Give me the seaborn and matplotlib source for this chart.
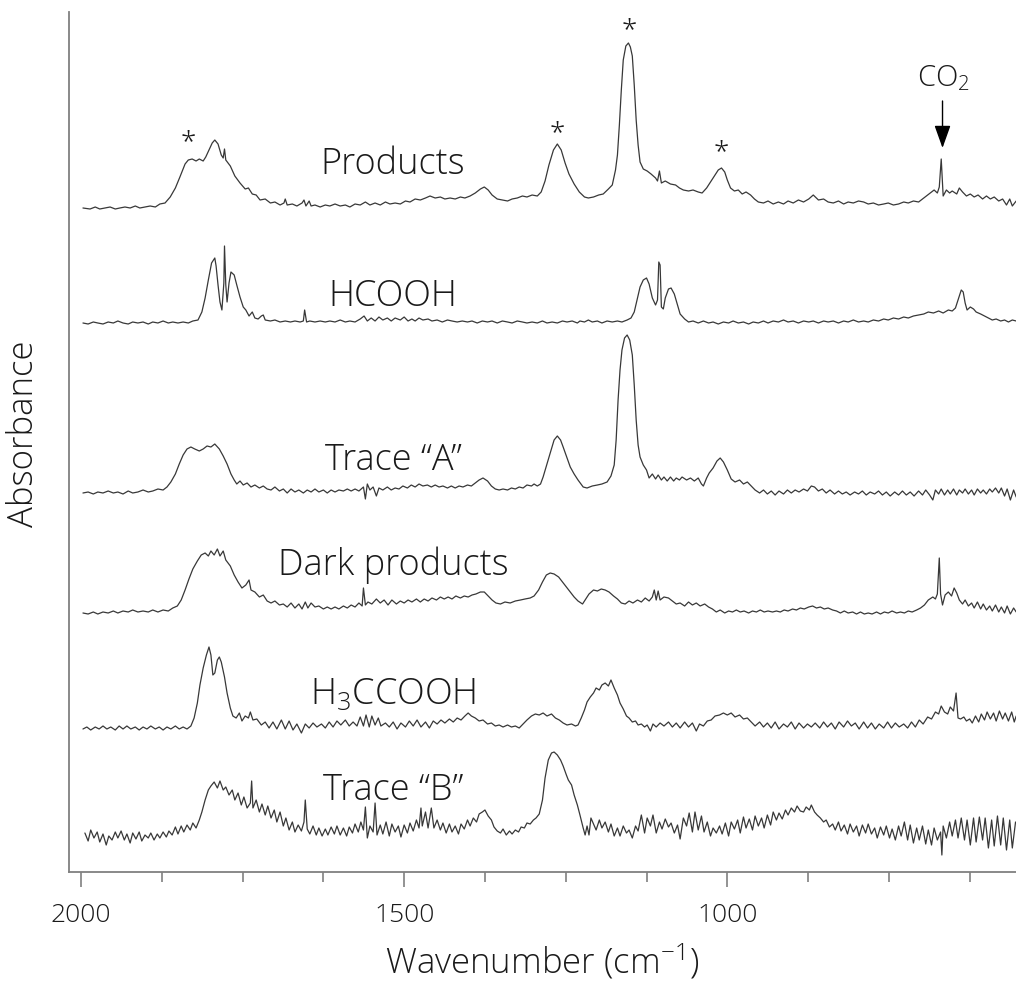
import matplotlib
matplotlib.use("Agg")
import matplotlib.pyplot as plt
from matplotlib.ticker import MultipleLocator
import pandas as pd
import seaborn as sns

# ---------------- data: (wavenumber cm-1, absorbance a.u. above own baseline) ----------------
PRODUCTS = [(1997,-2),(1986,-3),(1978,-1),(1971,-3),(1963,-2),(1955,-1),(1947,-3),(1940,-2),(1932,-1),(1924,-2),(1916,0),(1909,-2),(1901,-1),(1893,0),(1885,-1),(1878,2),(1870,3),(1862,9),(1854,18),(1847,29),(1839,42),(1834,46),(1828,47),(1822,45),(1817,47),(1811,45),(1807,49),(1802,56),(1797,63),(1793,66),(1788,62),(1783,51),(1780,48),(1778,57),(1776,46),(1769,40),(1762,30),(1754,23),(1746,17),(1741,18),(1735,12),(1729,11),(1723,6),(1715,7),(1707,3),(1700,4),(1692,1),(1686,3),(1684,7),(1681,1),(1673,2),(1666,0),(1658,3),(1655,6),(1652,0),(1647,5),(1644,0),(1638,1),(1630,-1),(1622,1),(1615,0),(1607,2),(1599,0),(1591,1),(1584,-1),(1576,2),(1568,1),(1560,4),(1553,1),(1545,3),(1537,1),(1529,4),(1522,2),(1514,3),(1506,2),(1498,5),(1491,4),(1483,7),(1475,6),(1467,8),(1460,10),(1452,8),(1444,9),(1437,7),(1429,8),(1421,7),(1413,9),(1406,8),(1398,10),(1390,13),(1382,17),(1376,19),(1370,16),(1364,11),(1356,7),(1348,6),(1340,5),(1333,7),(1325,8),(1317,10),(1310,9),(1302,11),(1294,10),(1288,14),(1282,25),(1276,41),(1269,56),(1263,62),(1257,56),(1251,43),(1245,32),(1237,22),(1229,14),(1221,9),(1215,8),(1207,9),(1199,11),(1192,12),(1184,17),(1178,21),(1173,36),(1170,51),(1167,81),(1164,116),(1161,146),(1157,160),(1153,163),(1150,159),(1147,150),(1144,121),(1141,86),(1138,61),(1135,44),(1130,37),(1124,35),(1118,32),(1111,28),(1108,25),(1105,35),(1102,23),(1096,25),(1088,22),(1080,21),(1074,18),(1068,16),(1060,15),(1053,16),(1045,14),(1039,13),(1032,18),(1026,24),(1020,30),(1014,36),(1009,38),(1004,34),(1000,26),(995,18),(989,15),(983,16),(977,12),(971,14),(964,11),(958,7),(952,4),(944,3),(937,5),(929,2),(921,4),(913,2),(906,5),(898,3),(890,6),(882,4),(874,7),(867,11),(859,6),(851,7),(844,4),(836,3),(828,5),(820,2),(813,4),(805,3),(797,5),(789,4),(782,2),(774,3),(766,1),(758,2),(751,3),(743,1),(735,2),(727,4),(720,3),(712,5),(704,4),(698,7),(692,10),(686,13),(680,16),(675,13),(672,19),(669,47),(666,10),(661,16),(656,13),(652,15),(645,12),(641,18),(636,14),(630,10),(624,12),(618,9),(612,11),(605,7),(599,10),(593,7),(587,9),(580,5),(574,7),(568,1),(563,7),(559,0),(553,5)]

HCOOH = [(1997,0),(1989,-1),(1981,1),(1974,0),(1966,-1),(1958,1),(1950,0),(1943,2),(1935,0),(1927,-1),(1920,1),(1912,0),(1904,1),(1896,-1),(1889,1),(1881,0),(1873,2),(1865,0),(1858,1),(1850,0),(1842,1),(1834,0),(1827,2),(1819,3),(1813,11),(1808,25),(1803,43),(1798,60),(1793,65),(1791,57),(1788,38),(1785,21),(1782,13),(1779,40),(1778,77),(1776,38),(1774,21),(1771,40),(1768,51),(1763,48),(1759,38),(1754,26),(1749,16),(1745,13),(1740,7),(1735,11),(1731,5),(1726,4),(1721,7),(1718,8),(1715,3),(1707,2),(1700,3),(1692,1),(1684,2),(1676,1),(1669,2),(1661,1),(1656,2),(1654,13),(1651,1),(1646,2),(1638,1),(1630,2),(1622,1),(1615,2),(1607,1),(1599,3),(1591,1),(1584,2),(1576,1),(1568,4),(1562,7),(1557,2),(1551,5),(1545,2),(1539,6),(1533,3),(1526,5),(1520,2),(1514,5),(1506,3),(1500,6),(1494,2),(1488,4),(1483,2),(1477,5),(1471,3),(1463,4),(1457,2),(1449,3),(1441,1),(1433,3),(1426,2),(1418,1),(1410,2),(1402,1),(1395,2),(1387,0),(1379,2),(1371,1),(1364,2),(1356,0),(1348,2),(1340,1),(1333,0),(1325,2),(1317,1),(1310,0),(1302,1),(1294,0),(1286,2),(1279,0),(1271,1),(1263,0),(1255,2),(1248,1),(1240,2),(1232,0),(1228,2),(1221,1),(1215,3),(1209,1),(1201,2),(1194,0),(1186,2),(1178,1),(1170,2),(1163,1),(1155,3),(1149,5),(1144,11),(1139,25),(1135,36),(1130,43),(1125,45),(1121,39),(1116,25),(1111,18),(1108,23),(1106,61),(1104,58),(1102,16),(1099,14),(1096,25),(1091,34),(1087,35),(1082,29),(1077,18),(1073,9),(1066,4),(1060,1),(1053,2),(1045,0),(1037,2),(1029,0),(1022,1),(1014,-1),(1006,1),(998,0),(991,2),(983,0),(975,1),(967,-1),(960,1),(952,0),(944,2),(937,0),(929,2),(921,1),(913,3),(906,1),(898,2),(890,0),(882,2),(874,1),(867,2),(859,0),(851,2),(844,1),(836,2),(828,0),(820,2),(813,1),(805,3),(797,1),(789,2),(782,1),(774,3),(766,2),(758,4),(751,3),(743,5),(735,4),(727,6),(720,5),(712,7),(704,8),(696,9),(689,11),(681,10),(673,12),(666,10),(658,13),(652,12),(647,15),(643,23),(638,33),(635,31),(632,20),(629,13),(624,16),(619,14),(615,11),(608,9),(602,7),(596,5),(590,3),(584,4),(577,2),(571,3),(565,1),(559,3),(553,2)]

TRACE_A = [(1997,-1),(1989,0),(1981,-2),(1974,0),(1966,-1),(1958,1),(1950,-1),(1943,0),(1935,-2),(1927,1),(1920,-1),(1912,0),(1904,2),(1896,0),(1889,1),(1881,3),(1873,2),(1867,5),(1861,10),(1854,18),(1848,28),(1842,37),(1836,43),(1830,45),(1824,43),(1817,41),(1811,43),(1805,46),(1799,45),(1793,48),(1786,43),(1780,36),(1774,28),(1768,18),(1763,12),(1759,8),(1754,11),(1749,7),(1743,9),(1737,5),(1731,7),(1724,4),(1718,6),(1712,3),(1706,2),(1700,5),(1693,1),(1687,3),(1681,-1),(1675,3),(1669,0),(1663,2),(1656,-1),(1650,2),(1644,0),(1638,3),(1632,0),(1625,2),(1619,-1),(1613,2),(1607,0),(1601,2),(1594,1),(1588,3),(1582,1),(1576,3),(1570,1),(1563,5),(1560,-7),(1557,8),(1553,2),(1548,5),(1543,-4),(1539,4),(1533,2),(1526,5),(1520,2),(1514,4),(1508,3),(1502,6),(1495,4),(1489,7),(1483,5),(1477,8),(1471,6),(1464,7),(1458,5),(1452,7),(1446,5),(1440,6),(1433,4),(1427,6),(1421,4),(1415,6),(1409,5),(1402,7),(1396,6),(1390,9),(1384,12),(1378,14),(1371,11),(1365,6),(1359,3),(1353,2),(1347,3),(1340,2),(1334,4),(1328,3),(1322,5),(1316,4),(1310,7),(1303,6),(1299,8),(1294,6),(1289,8),(1285,15),(1280,26),(1274,39),(1268,52),(1263,56),(1258,52),(1254,45),(1248,34),(1243,25),(1237,18),(1231,12),(1223,5),(1217,4),(1209,6),(1201,7),(1194,8),(1186,10),(1180,16),(1175,27),(1172,52),(1169,92),(1166,122),(1163,142),(1159,154),(1155,157),(1151,152),(1147,137),(1144,107),(1141,72),(1138,47),(1135,35),(1130,27),(1125,22),(1121,14),(1116,18),(1111,13),(1107,17),(1102,12),(1098,15),(1093,11),(1088,15),(1083,11),(1079,14),(1074,12),(1070,15),(1063,12),(1057,14),(1051,11),(1045,14),(1040,8),(1037,6),(1032,14),(1028,19),(1022,24),(1016,31),(1011,34),(1006,30),(1000,22),(994,13),(988,10),(981,12),(975,8),(969,10),(963,6),(957,2),(950,-1),(944,2),(938,-2),(932,1),(926,-3),(920,1),(913,-2),(907,2),(901,-1),(895,2),(889,0),(882,3),(876,1),(870,6),(865,5),(859,1),(853,3),(847,-1),(841,2),(834,-2),(828,1),(822,-2),(816,0),(810,-3),(803,0),(797,-2),(791,1),(785,-3),(779,0),(772,-2),(766,1),(760,-3),(754,0),(748,-4),(741,0),(735,-3),(729,1),(723,-3),(717,0),(711,-4),(704,1),(698,-3),(693,2),(687,-3),(682,-8),(678,2),(673,-2),(669,3),(664,-3),(659,2),(655,-2),(650,3),(645,-3),(641,2),(636,-1),(632,3),(627,-2),(622,2),(618,-3),(613,3),(608,-1),(604,2),(599,-2),(594,3),(590,0),(585,4),(580,-1),(576,4),(571,-4),(567,3),(562,-8),(557,2),(553,-5)]

DARK = [(1997,-1),(1989,-2),(1981,0),(1974,-2),(1966,0),(1958,-1),(1950,1),(1943,-1),(1935,1),(1927,0),(1920,2),(1912,0),(1904,1),(1896,0),(1889,2),(1881,0),(1873,2),(1865,1),(1858,4),(1851,6),(1845,12),(1839,22),(1833,33),(1827,43),(1820,51),(1814,57),(1808,59),(1803,56),(1799,61),(1794,57),(1789,63),(1785,56),(1780,61),(1776,52),(1769,46),(1763,37),(1757,30),(1751,24),(1745,27),(1740,32),(1737,22),(1731,20),(1724,15),(1718,17),(1712,11),(1706,9),(1700,11),(1693,7),(1687,8),(1681,5),(1675,9),(1669,4),(1663,8),(1658,3),(1653,10),(1649,4),(1644,9),(1638,5),(1632,6),(1625,3),(1619,5),(1613,3),(1607,5),(1601,3),(1594,6),(1588,4),(1582,7),(1576,5),(1570,9),(1565,6),(1563,24),(1560,7),(1556,10),(1550,8),(1543,13),(1537,9),(1531,12),(1525,7),(1519,12),(1512,8),(1506,11),(1500,9),(1494,12),(1488,10),(1481,13),(1475,10),(1469,13),(1463,11),(1457,14),(1450,12),(1444,15),(1438,13),(1432,15),(1426,13),(1420,16),(1413,14),(1407,16),(1401,15),(1395,17),(1389,18),(1382,20),(1376,20),(1370,16),(1364,12),(1358,9),(1351,8),(1344,10),(1336,9),(1328,11),(1320,12),(1313,13),(1305,14),(1299,16),(1292,22),(1286,30),(1280,37),(1274,39),(1268,38),(1261,35),(1255,30),(1249,25),(1243,20),(1237,15),(1231,11),(1224,8),(1220,12),(1214,18),(1207,22),(1201,21),(1195,23),(1189,22),(1183,20),(1176,16),(1170,13),(1164,9),(1158,8),(1152,11),(1146,9),(1139,12),(1133,10),(1127,14),(1121,11),(1116,15),(1113,22),(1110,12),(1107,21),(1104,12),(1098,15),(1091,14),(1085,11),(1079,8),(1073,9),(1066,6),(1060,10),(1054,7),(1048,9),(1042,6),(1035,8),(1029,5),(1023,3),(1017,0),(1011,2),(1004,-1),(998,1),(992,0),(986,2),(980,0),(974,1),(967,-1),(961,1),(955,0),(949,2),(943,0),(937,1),(930,0),(924,1),(918,0),(912,2),(906,1),(899,3),(893,2),(887,4),(881,3),(874,5),(868,6),(862,4),(856,5),(850,3),(844,4),(837,2),(831,1),(825,-1),(819,1),(813,-1),(806,0),(800,-2),(794,0),(788,-2),(782,-1),(776,-2),(769,0),(763,-2),(757,0),(751,-1),(745,1),(738,-1),(732,0),(726,-1),(720,1),(714,0),(707,2),(701,4),(695,7),(689,12),(682,15),(678,13),(675,18),(672,54),(670,18),(667,7),(663,17),(658,20),(653,16),(649,24),(645,19),(641,12),(636,8),(632,12),(627,6),(622,9),(618,4),(613,10),(608,3),(604,8),(599,2),(594,6),(590,1),(585,7),(580,0),(576,5),(571,-1),(567,6),(562,-2),(557,4),(553,0)]

H3CCOOH = [(1997,-1),(1991,1),(1985,-2),(1978,1),(1972,-1),(1966,2),(1960,-1),(1954,1),(1947,-2),(1941,2),(1935,-1),(1929,2),(1923,-1),(1916,1),(1910,-2),(1904,1),(1898,-1),(1892,2),(1885,-1),(1879,1),(1873,-2),(1867,1),(1861,-1),(1854,2),(1848,-1),(1842,1),(1836,-1),(1830,2),(1825,10),(1820,25),(1816,43),(1811,60),(1806,73),(1802,81),(1799,73),(1796,53),(1793,55),(1789,68),(1786,71),(1783,66),(1778,51),(1774,35),(1769,20),(1765,12),(1760,10),(1755,15),(1751,7),(1746,12),(1741,10),(1738,16),(1734,8),(1728,9),(1721,3),(1715,6),(1709,0),(1703,6),(1697,-1),(1690,8),(1684,-1),(1678,7),(1672,-2),(1666,4),(1659,-5),(1653,4),(1647,0),(1641,5),(1635,1),(1628,4),(1622,0),(1616,6),(1610,1),(1604,7),(1598,3),(1591,8),(1585,2),(1579,6),(1573,2),(1568,11),(1563,2),(1559,13),(1554,1),(1550,12),(1545,3),(1540,10),(1536,2),(1529,5),(1523,1),(1517,6),(1511,-1),(1505,5),(1498,1),(1492,7),(1486,2),(1480,8),(1474,1),(1467,6),(1461,0),(1455,7),(1449,4),(1443,8),(1437,5),(1430,9),(1424,6),(1418,10),(1412,8),(1406,12),(1401,15),(1396,12),(1390,10),(1384,7),(1378,8),(1371,4),(1365,5),(1359,2),(1353,3),(1347,1),(1340,3),(1334,1),(1328,2),(1322,0),(1316,4),(1310,8),(1303,12),(1297,14),(1291,13),(1285,15),(1279,12),(1272,14),(1266,10),(1260,8),(1254,5),(1248,3),(1241,4),(1235,2),(1231,3),(1226,10),(1221,18),(1217,26),(1212,31),(1207,35),(1203,40),(1198,38),(1194,43),(1189,45),(1184,42),(1180,48),(1175,40),(1170,33),(1166,25),(1161,19),(1156,12),(1152,10),(1147,6),(1142,7),(1138,3),(1133,4),(1128,1),(1124,3),(1119,-3),(1115,4),(1110,1),(1104,5),(1098,2),(1091,6),(1085,1),(1079,5),(1073,0),(1066,6),(1060,1),(1054,5),(1048,-3),(1043,4),(1037,2),(1031,7),(1025,8),(1019,12),(1012,13),(1006,15),(1000,13),(994,15),(988,11),(981,13),(975,9),(969,10),(963,6),(957,2),(950,6),(944,1),(938,5),(932,0),(926,6),(920,-1),(913,4),(907,1),(901,6),(895,-1),(889,5),(882,0),(876,4),(870,1),(864,5),(857,0),(851,6),(845,1),(839,5),(833,-1),(827,6),(820,1),(814,7),(808,2),(802,5),(796,-1),(789,6),(783,0),(777,5),(771,-1),(765,4),(758,0),(752,6),(746,0),(740,5),(734,1),(727,4),(721,0),(715,6),(709,1),(703,8),(697,4),(690,11),(684,9),(678,16),(673,14),(669,22),(664,16),(659,14),(655,21),(650,17),(646,35),(643,10),(639,9),(634,11),(630,7),(625,9),(621,5),(616,12),(611,6),(607,14),(602,8),(598,16),(593,9),(588,15),(584,7),(579,17),(574,9),(570,15),(565,7),(560,16),(556,6),(553,12)]

TRACE_B = [(1994,2),(1989,-6),(1985,5),(1980,-3),(1975,3),(1971,-7),(1966,1),(1961,-10),(1957,-1),(1952,-5),(1947,3),(1943,-3),(1938,4),(1933,-5),(1929,1),(1924,-8),(1920,2),(1915,-4),(1910,3),(1906,-6),(1901,0),(1896,-3),(1892,2),(1887,-5),(1882,1),(1878,-3),(1873,3),(1868,-2),(1864,4),(1859,0),(1854,8),(1850,1),(1845,9),(1841,3),(1836,10),(1831,5),(1827,12),(1822,7),(1817,15),(1813,23),(1808,35),(1803,45),(1799,49),(1794,53),(1789,47),(1785,54),(1780,45),(1776,48),(1771,40),(1766,45),(1762,35),(1757,42),(1752,30),(1748,38),(1743,27),(1738,32),(1736,54),(1734,27),(1729,35),(1724,23),(1720,31),(1715,20),(1711,29),(1706,17),(1701,25),(1697,13),(1692,23),(1687,9),(1683,17),(1678,5),(1673,13),(1669,3),(1664,10),(1659,4),(1655,13),(1653,35),(1650,6),(1646,1),(1641,9),(1636,0),(1632,7),(1627,-1),(1622,6),(1618,0),(1613,8),(1608,1),(1604,9),(1599,0),(1594,7),(1589,-1),(1585,8),(1580,2),(1576,11),(1571,3),(1567,13),(1563,5),(1560,28),(1557,-3),(1553,9),(1548,3),(1545,32),(1542,0),(1537,10),(1533,1),(1528,13),(1523,-1),(1519,11),(1514,3),(1509,9),(1505,-2),(1500,10),(1495,2),(1491,12),(1486,4),(1481,15),(1477,7),(1474,27),(1472,9),(1467,23),(1463,7),(1458,27),(1454,7),(1449,15),(1444,5),(1440,12),(1435,2),(1430,11),(1426,3),(1421,9),(1416,1),(1412,11),(1407,6),(1402,15),(1398,9),(1393,17),(1388,13),(1384,21),(1379,23),(1375,25),(1370,19),(1365,15),(1361,8),(1356,4),(1351,2),(1347,6),(1342,0),(1337,4),(1333,1),(1328,5),(1323,3),(1319,8),(1314,7),(1310,12),(1305,11),(1300,15),(1296,17),(1291,21),(1286,35),(1282,57),(1277,75),(1272,82),(1268,83),(1263,80),(1258,75),(1254,69),(1249,60),(1246,55),(1241,50),(1237,40),(1232,30),(1228,20),(1223,7),(1220,0),(1217,9),(1214,0),(1211,17),(1207,11),(1203,5),(1198,15),(1194,7),(1189,13),(1184,3),(1180,11),(1175,-1),(1170,7),(1166,-1),(1161,9),(1156,2),(1152,5),(1147,-3),(1142,9),(1138,4),(1133,20),(1128,2),(1124,17),(1119,9),(1115,20),(1110,2),(1105,13),(1101,6),(1096,16),(1091,8),(1087,12),(1082,2),(1077,10),(1073,-4),(1068,17),(1063,9),(1059,22),(1054,3),(1050,23),(1045,5),(1040,19),(1036,3),(1031,13),(1026,-1),(1022,7),(1017,2),(1012,9),(1008,1),(1003,12),(998,-1),(994,13),(989,6),(984,15),(980,2),(975,18),(971,7),(966,16),(961,5),(957,19),(952,9),(947,17),(943,7),(938,20),(933,10),(929,23),(924,15),(920,22),(915,16),(910,25),(906,20),(901,27),(896,23),(892,29),(887,24),(882,23),(878,28),(873,25),(870,30),(865,23),(861,20),(856,17),(851,13),(847,15),(842,8),(837,11),(833,5),(828,13),(824,4),(819,10),(814,1),(810,11),(805,3),(800,9),(796,-1),(791,10),(786,2),(782,11),(777,1),(772,7),(768,-3),(763,8),(758,0),(754,9),(749,-3),(745,6),(740,-5),(735,9),(731,-1),(726,13),(721,-5),(717,10),(712,-8),(707,7),(703,-5),(698,9),(693,-9),(689,5),(684,-10),(680,7),(675,-5),(670,3),(668,-20),(666,9),(661,-3),(656,13),(652,-1),(647,15),(643,-3),(638,17),(633,-5),(629,15),(624,-10),(619,17),(615,-7),(610,18),(605,-5),(601,17),(596,-13),(591,15),(587,-11),(582,19),(577,-10),(573,17),(568,-15),(563,15),(559,-13),(554,13)]

SPECTRA = [PRODUCTS, HCOOH, TRACE_A, DARK, H3CCOOH, TRACE_B]
NAMES = ["Products", "HCOOH", "Trace \u201cA\u201d", "Dark products", "H$_3$CCOOH", "Trace \u201cB\u201d"]
OFFSETS = [666, 549, 380, 260, 144, 37]
LABEL_Y = [707, 575, 412, 307, 177, 82]
LABEL_WN = 1517

STAR_WN = [1834, 1263, 1152, 1009]
STAR_Y = [729, 738, 841, 719]
CO2_WN = 667

XTICKS = [2000, 1500, 1000]

# ---------------- style ----------------
sns.set_style("ticks")
plt.rcParams["font.family"] = ["Open Sans", "DejaVu Sans"]
plt.rcParams["font.weight"] = "light"
plt.rcParams["axes.labelweight"] = "light"
plt.rcParams["mathtext.fontset"] = "custom"
plt.rcParams["mathtext.rm"] = "Open Sans:light"
plt.rcParams["mathtext.it"] = "Open Sans:italic:light"
plt.rcParams["mathtext.default"] = "regular"

TEXT = "#1a1a1a"
LINE = "#383838"
AXC = "#808080"

fig = plt.figure(figsize=(10.16, 9.83), dpi=100)
ax = fig.add_axes([69 / 1016, 111 / 983, 947 / 1016, 860 / 983])

for name, spec, off in zip(NAMES, SPECTRA, OFFSETS):
    df = pd.DataFrame(spec, columns=["wavenumber", "abs"])
    df["abs"] = df["abs"] + off
    sns.lineplot(data=df, x="wavenumber", y="abs", ax=ax, color=LINE,
                 linewidth=0.9, estimator=None, sort=False, legend=False)

for name, ly in zip(NAMES, LABEL_Y):
    ax.text(LABEL_WN, ly, name, ha="center", va="center", fontsize=26,
            color=TEXT, fontweight="light")

for sw, sy in zip(STAR_WN, STAR_Y):
    ax.text(sw, sy, "*", ha="center", va="center", fontsize=20, color=TEXT)

ax.text(CO2_WN - 2, 794, "CO$_2$", ha="center", va="center", fontsize=21,
        color=TEXT, fontweight="light")
ax.annotate("", xy=(CO2_WN, 872 - 148), xytext=(CO2_WN, 872 - 101),
            arrowprops=dict(arrowstyle="-|>,head_length=0.7,head_width=0.25",
                            color="black", lw=1.0, mutation_scale=20,
                            shrinkA=0, shrinkB=0))

ax.set_xlim(2018.6, 553.3)
ax.set_ylim(0, 860)
ax.xaxis.set_major_locator(MultipleLocator(500))
ax.xaxis.set_minor_locator(MultipleLocator(125))
ax.set_xticks(XTICKS)
ax.set_xticklabels([str(t) for t in XTICKS])
ax.set_yticks([])

for s in ["top", "right"]:
    ax.spines[s].set_visible(False)
for s in ["left", "bottom"]:
    ax.spines[s].set_color(AXC)
    ax.spines[s].set_linewidth(1.3)

ax.tick_params(axis="x", which="major", direction="out", length=11, width=1.2,
               color=AXC, pad=11, labelsize=19, labelcolor=TEXT)
ax.tick_params(axis="x", which="minor", direction="out", length=7, width=1.2, color=AXC)

ax.set_xlabel("Wavenumber (cm$^{-1}$)", fontsize=25, color=TEXT, fontweight="light")
ax.set_ylabel("Absorbance", fontsize=25, color=TEXT, fontweight="light")
ax.xaxis.set_label_coords(0.5, -0.1047)
ax.xaxis.label.set_va("center")
ax.yaxis.set_label_coords(-0.0475, 0.51)
ax.yaxis.label.set_va("center")

fig.savefig("out.png", dpi=100)
